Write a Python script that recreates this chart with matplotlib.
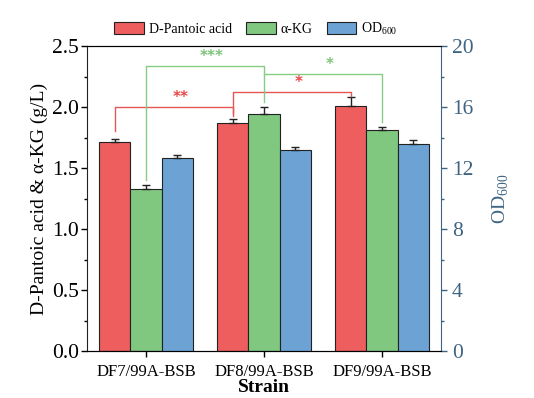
import matplotlib
matplotlib.use("Agg")
import matplotlib.pyplot as plt
import numpy as np
from matplotlib.ticker import MultipleLocator
from matplotlib.patches import Patch

plt.rcParams['font.family'] = ['Liberation Serif', 'DejaVu Serif']
plt.rcParams['mathtext.fontset'] = 'custom'
plt.rcParams['mathtext.rm'] = 'Liberation Serif'

strains = ["DF7/99A-BSB", "DF8/99A-BSB", "DF9/99A-BSB"]
pantoic = [1.71, 1.87, 2.01]
pantoic_err = [0.03, 0.033, 0.068]
akg = [1.33, 1.94, 1.81]
akg_err = [0.03, 0.06, 0.022]
od600 = [12.63, 13.16, 13.6]
od600_err = [0.2, 0.24, 0.22]

red = '#EE5E5E'
green = '#80C880'
blue = '#6CA3D4'
slate = '#3E6482'

fig = plt.figure(figsize=(5.34, 3.98), dpi=100)
ax = fig.add_axes([87/534, 47/398, 354/534, 305/398])
ax2 = ax.twinx()

x = np.arange(len(strains))
w = 0.265
ax.bar(x - w, pantoic, w, color=red, edgecolor='#222222', linewidth=0.8, zorder=2)
ax.errorbar(x - w, pantoic, yerr=[np.zeros(3), pantoic_err], fmt='none', ecolor='#222222',
            elinewidth=1, capsize=3, capthick=1, zorder=3)
ax.bar(x, akg, w, color=green, edgecolor='#222222', linewidth=0.8, zorder=2)
ax.errorbar(x, akg, yerr=[np.zeros(3), akg_err], fmt='none', ecolor='#222222',
            elinewidth=1, capsize=3, capthick=1, zorder=3)
ax2.bar(x + w, od600, w, color=blue, edgecolor='#222222', linewidth=0.8, zorder=2)
ax2.errorbar(x + w, od600, yerr=[np.zeros(3), od600_err], fmt='none', ecolor='#222222',
             elinewidth=1, capsize=3, capthick=1, zorder=3)

ax.set_xlim(-0.5, 2.5)
ax.set_ylim(0, 2.5)
ax2.set_ylim(0, 20)

# significance brackets
def bracket(x1, x2, y, yl, yr, color, tcolor, label):
    ax.plot([x1, x1, x2, x2], [yl, y, y, yr], color=color, lw=1, zorder=4)
    ax.text((x1 + x2) / 2 + 0.06, y + 0.015, label, color=tcolor, ha='center', va='bottom',
            fontsize=11, fontweight='bold', family='DejaVu Sans')

bracket(0 - w, 1 - w, 2.003, 1.80, 1.93, '#E85555', '#E84848', '**')
bracket(1 - w, 2 - w, 2.123, 1.95, 2.09, '#E85555', '#E84848', '*')
bracket(0, 1, 2.336, 1.40, 2.04, '#86CC86', '#7CC47C', '***')
bracket(1, 2, 2.27, 2.27, 1.88, '#86CC86', '#7CC47C', '*')

ax.set_xticks(x)
ax.set_xticklabels(strains, fontsize=12)
ax.set_yticks(np.arange(0, 2.51, 0.5))
ax.set_yticklabels([f"{v:.1f}" for v in np.arange(0, 2.51, 0.5)])
ax.yaxis.set_minor_locator(MultipleLocator(0.25))
ax.tick_params(axis='y', labelsize=15.5, direction='out', length=4, width=1, pad=2)
ax.tick_params(axis='y', which='minor', direction='out', length=2.5, width=1)
ax.tick_params(axis='x', direction='out', length=4, width=1, pad=5)

ax2.yaxis.set_major_locator(MultipleLocator(4))
ax2.yaxis.set_minor_locator(MultipleLocator(2))
ax2.tick_params(axis='y', labelsize=15.5, colors=slate, direction='out', length=4, width=1, pad=4)
ax2.tick_params(axis='y', which='minor', colors=slate, direction='out', length=2.5, width=1)
ax2.spines['right'].set_color(slate)
ax2.spines['left'].set_visible(False)
for s in ['top', 'bottom', 'left']:
    ax.spines[s].set_color('#222222')
ax.spines['right'].set_visible(False)

ax.set_ylabel("D-Pantoic acid & α-KG (g/L)", fontsize=14, labelpad=3)
ax.set_xlabel("Strain", fontsize=14, fontweight='bold', labelpad=0)
ax2.set_ylabel("OD$_{600}$", fontsize=14, color=slate, labelpad=12)

handles = [Patch(facecolor=red, edgecolor='#222222', linewidth=0.8),
           Patch(facecolor=green, edgecolor='#222222', linewidth=0.8),
           Patch(facecolor=blue, edgecolor='#222222', linewidth=0.8)]
labels = ["D-Pantoic acid", "α-KG", "OD$_{600}$"]
fig.legend(handles, labels, loc='center', bbox_to_anchor=(256/534, 1 - 29/398), ncol=3,
           frameon=False, fontsize=10, handlelength=2.15, handleheight=1.0,
           columnspacing=1.0, handletextpad=0.35)

fig.savefig("out.png", dpi=100)
